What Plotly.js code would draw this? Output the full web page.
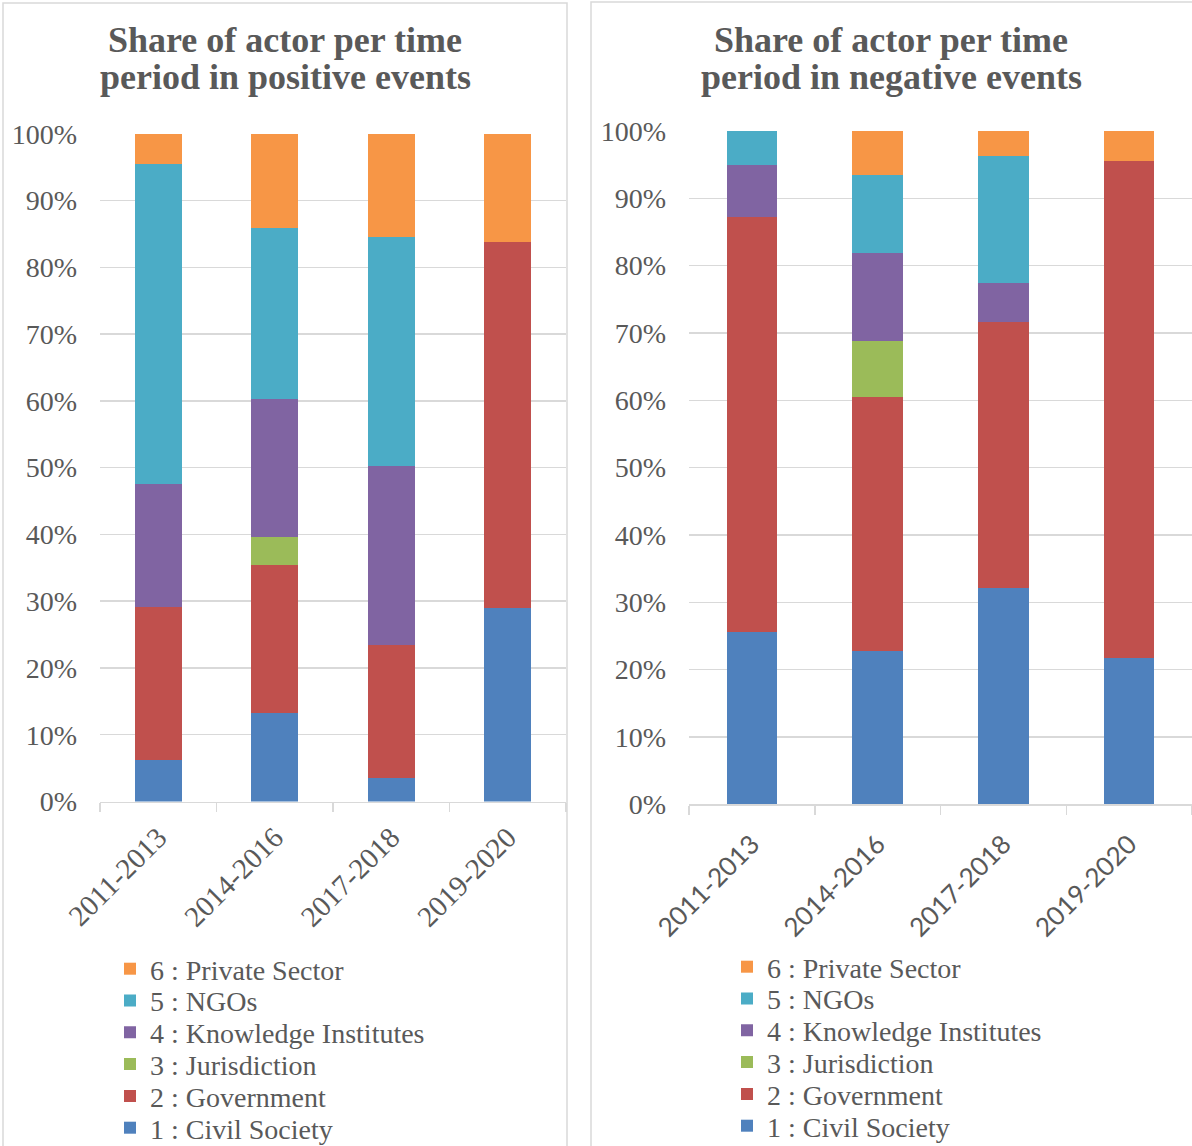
<!DOCTYPE html>
<html>
<head>
<meta charset="utf-8">
<script src="https://cdn.plot.ly/plotly-3.0.1.min.js"></script>
<style>html,body{margin:0;padding:0;background:#fff;}#chart{width:1192px;height:1146px;}</style>
</head>
<body>
<div id="chart"></div>
<script>
// ---- Data (percent share per period) ----
const periods = ['2011-2013', '2014-2016', '2017-2018', '2019-2020'];
const actorNames = ['1 : Civil Society', '2 : Government', '3 : Jurisdiction', '4 : Knowledge Institutes', '5 : NGOs', '6 : Private Sector'];
const actorColors = ['#4F81BD', '#C0504D', '#9BBB59', '#8064A2', '#4BACC6', '#F79646'];
const yTickVals = [0, 10, 20, 30, 40, 50, 60, 70, 80, 90, 100];
const yTickText = ['0%', '10%', '20%', '30%', '40%', '50%', '60%', '70%', '80%', '90%', '100%'];
const titlePos = ['Share of actor per time', 'period in positive events'];
const titleNeg = ['Share of actor per time', 'period in negative events'];

// Positive events
const posCivil = [6.2, 13.2, 3.5, 29.0];
const posGov = [23.0, 22.2, 20.0, 54.8];
const posJur = [0, 4.2, 0, 0];
const posKnow = [18.4, 20.7, 26.8, 0];
const posNGO = [47.8, 25.6, 34.3, 0];
const posPriv = [4.6, 14.1, 15.4, 16.2];

// Negative events
const negCivil = [25.6, 22.7, 32.1, 21.7];
const negGov = [61.6, 37.8, 39.6, 73.9];
const negJur = [0, 8.3, 0, 0];
const negKnow = [7.7, 13.1, 5.7, 0];
const negNGO = [5.1, 11.5, 18.9, 0];
const negPriv = [0, 6.6, 3.7, 4.4];

const posSeries = [posCivil, posGov, posJur, posKnow, posNGO, posPriv];
const negSeries = [negCivil, negGov, negJur, negKnow, negNGO, negPriv];

const serif = 'Liberation Serif, Times New Roman, serif';
const sans = 'Lato, Liberation Sans, sans-serif';
const txt = '#595959';
const grid = '#d9d9d9';

const W = 1192, H = 1146;
const px = v => v / W;
const py = v => 1 - v / H;

const legendId = k => (k === 1 ? 'legend' : 'legend' + k);

const traces = [];
const layout = {
  width: W, height: H, margin: {l: 0, r: 0, t: 0, b: 0, autoexpand: false},
  paper_bgcolor: '#fff', plot_bgcolor: 'rgba(0,0,0,0)',
  barmode: 'stack', showlegend: true
};

// one single-entry legend per series so rows can be spaced like the original
const panels = [
  {series: posSeries, xa: 'x', ya: 'y', legX: 110, row0: 1128},
  {series: negSeries, xa: 'x2', ya: 'y2', legX: 727, row0: 1126}
];
const rowGap = 31.8;
panels.forEach((p, pi) => {
  p.series.forEach((vals, i) => {
    const k = pi * 6 + i + 1;
    traces.push({
      type: 'bar', x: periods, y: vals, name: actorNames[i],
      marker: {color: actorColors[i], line: {width: 0}},
      xaxis: p.xa, yaxis: p.ya, legend: legendId(k), width: 0.4,
      hoverinfo: 'skip'
    });
    layout[legendId(k)] = {
      x: px(p.legX), y: py(p.row0 - i * rowGap), xanchor: 'left', yanchor: 'middle',
      bgcolor: 'rgba(0,0,0,0)', borderwidth: 0,
      font: {family: serif, size: 28, color: txt}
    };
  });
});

function xAxis(domain, fontFamily, fontSize, standoff) {
  return {
    domain: domain, type: 'category', showgrid: false, zeroline: false,
    showline: true, linecolor: grid, linewidth: 1.5,
    ticks: 'outside', tickson: 'boundaries', ticklen: 9, tickcolor: grid, tickwidth: 1.5,
    tickangle: -45, ticklabelstandoff: standoff,
    tickfont: {family: fontFamily, size: fontSize, color: txt},
    fixedrange: true, automargin: false
  };
}
function yAxis(domain, anchor) {
  return {
    domain: domain, anchor: anchor, range: [0, 100],
    tickmode: 'array', tickvals: yTickVals, ticktext: yTickText,
    showgrid: true, gridcolor: grid, gridwidth: 1.5, zeroline: false,
    showline: false, ticks: '', ticklabelstandoff: 22,
    tickfont: {family: serif, size: 28, color: txt}, fixedrange: true, automargin: false
  };
}

layout.xaxis = Object.assign(xAxis([px(100), px(566)], serif, 29, 6), {anchor: 'y'});
layout.yaxis = yAxis([py(801.5), py(133.7)], 'x');
layout.xaxis2 = Object.assign(xAxis([px(689), 1], sans, 26, 13), {anchor: 'y2'});
layout.yaxis2 = yAxis([py(804.3), py(131)], 'x2');

layout.shapes = [
  {type: 'rect', xref: 'paper', yref: 'paper', x0: px(3), x1: px(567), y0: -0.01, y1: py(3),
   line: {color: grid, width: 1.5}, fillcolor: 'rgba(0,0,0,0)', layer: 'below'},
  {type: 'rect', xref: 'paper', yref: 'paper', x0: px(591), x1: 1.01, y0: -0.01, y1: py(2),
   line: {color: grid, width: 1.5}, fillcolor: 'rgba(0,0,0,0)', layer: 'below'}
];

const titleFont = {family: serif, size: 36, color: txt, weight: 700};
layout.annotations = [];
[[titlePos, 285], [titleNeg, 891]].forEach(([lines, cx]) => {
  lines.forEach((t, li) => {
    layout.annotations.push({
      xref: 'paper', yref: 'paper', x: px(cx), y: py(40 + li * 37),
      xanchor: 'center', yanchor: 'middle', showarrow: false, text: t, font: titleFont
    });
  });
});

Plotly.newPlot('chart', traces, layout, {displayModeBar: false, staticPlot: true});
</script>
</body>
</html>
